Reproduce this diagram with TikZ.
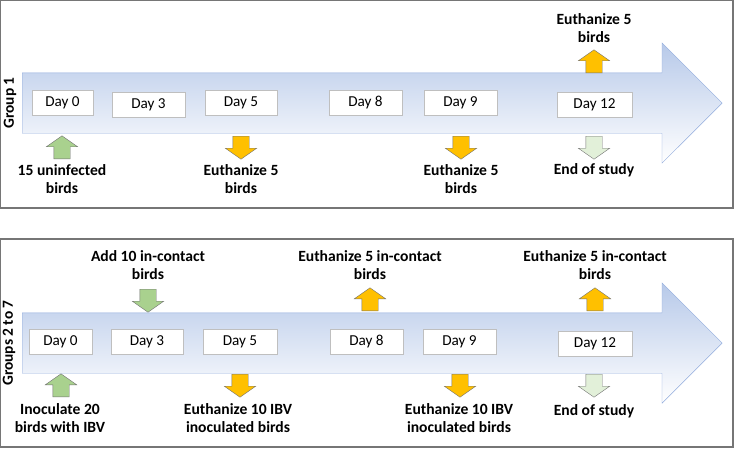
\documentclass[tikz,border=0pt]{standalone}
\usepackage{fontspec}
\setmainfont{Carlito}
\usetikzlibrary{shapes.arrows}
\definecolor{framegray}{RGB}{118,118,118}
\definecolor{boxgray}{RGB}{191,191,191}
\definecolor{lineblue}{RGB}{143,170,220}
\definecolor{fillblue}{RGB}{183,201,233}
\definecolor{addgreen}{RGB}{169,209,142}
\definecolor{endgreen}{RGB}{226,240,217}
\definecolor{killyellow}{RGB}{255,192,0}
\tikzset{
  panel/.style={draw=framegray,line width=1.3pt},
  timeline/.style={single arrow,draw=lineblue,top color=fillblue,bottom color=white,
    minimum height=700pt,minimum width=120pt,single arrow head extend=30pt,
    inner xsep=0pt,inner ysep=30pt,anchor=tail},
  blockarrow/.style={single arrow,draw=black!55,minimum height=23pt,minimum width=31pt,
    single arrow head extend=7.5pt,single arrow tip angle=110,
    inner xsep=8pt,inner ysep=0pt,anchor=tail},
  uparrow/.style={blockarrow,shape border rotate=90},
  downarrow/.style={blockarrow,shape border rotate=270},
  daybox/.style={draw=boxgray,fill=white,minimum width=73pt,minimum height=25pt,
    inner sep=0pt,font=\fontsize{15.2}{18.5}\selectfont},
  note/.style={align=center,font=\fontsize{15.6}{18.8}\selectfont\bfseries},
  grouplabel/.style={rotate=90,font=\fontsize{15.4}{18.5}\selectfont\bfseries}
}
\begin{document}
\begin{tikzpicture}[x=1pt,y=-1pt]
  \useasboundingbox (0,0) rectangle (735,448);
  % Group 1
  \draw[panel] (0.7,0.7) rectangle (733,208);
  \node[timeline] (line1) at (22,103) {};
  \node[grouplabel] (g1) at (10,103) {Group 1};
  \node[daybox,minimum width=61pt] (d10) at (62.5,103) {Day 0};
  \node[daybox] (d13) at (148.5,104.5) {Day 3};
  \node[daybox,minimum width=72pt] (d15) at (241,103) {Day 5};
  \node[daybox] (d18) at (365.5,103) {Day 8};
  \node[daybox] (d19) at (460.5,102.5) {Day 9};
  \node[daybox,minimum width=75pt] (d112) at (594.5,104.5) {Day 12};
  \node[uparrow,fill=addgreen] (a10) at (62,159) {};
  \node[downarrow,fill=killyellow] (a15) at (241,136) {};
  \node[downarrow,fill=killyellow] (a19) at (461,136) {};
  \node[downarrow,fill=endgreen] (a112) at (594,136) {};
  \node[uparrow,fill=killyellow] (b112) at (594,73) {};
  \node[note] (t10) at (62,179) {15 uninfected\\birds};
  \node[note] (t15) at (241,179) {Euthanize 5\\birds};
  \node[note] (t19) at (461,179) {Euthanize 5\\birds};
  \node[note] (t112) at (594,170) {End of study};
  \node[note] (u112) at (594,28) {Euthanize 5\\birds};
  % Groups 2 to 7
  \draw[panel] (0.7,239) rectangle (733,447);
  \node[timeline] (line2) at (22,343) {};
  \node[grouplabel] (g2) at (9,343) {Groups 2 to 7};
  \node[daybox,minimum width=63pt] (d20) at (60.5,341.5) {Day 0};
  \node[daybox,minimum width=72pt] (d23) at (147,341.5) {Day 3};
  \node[daybox,minimum width=74pt] (d25) at (240,341.5) {Day 5};
  \node[daybox] (d28) at (366.5,342) {Day 8};
  \node[daybox] (d29) at (459.5,342) {Day 9};
  \node[daybox,minimum width=74pt] (d212) at (595,343.5) {Day 12};
  \node[uparrow,fill=addgreen] (a20) at (61,397) {};
  \node[downarrow,fill=addgreen] (b23) at (148,289) {};
  \node[downarrow,fill=killyellow] (a25) at (240,374) {};
  \node[uparrow,fill=killyellow] (b28) at (370,311) {};
  \node[downarrow,fill=killyellow] (a29) at (460,374) {};
  \node[uparrow,fill=killyellow] (b212) at (595,311) {};
  \node[downarrow,fill=endgreen] (a212) at (594,374) {};
  \node[note] (t20) at (60,418) {Inoculate 20\\birds with IBV};
  \node[note] (u23) at (148,265) {Add 10 in-contact\\birds};
  \node[note] (t25) at (238,418) {Euthanize 10 IBV\\inoculated birds};
  \node[note] (u28) at (370,265) {Euthanize 5 in-contact\\birds};
  \node[note] (t29) at (459,418) {Euthanize 10 IBV\\inoculated birds};
  \node[note] (u212) at (595,265) {Euthanize 5 in-contact\\birds};
  \node[note] (t212) at (594,411) {End of study};
\end{tikzpicture}
\end{document}
